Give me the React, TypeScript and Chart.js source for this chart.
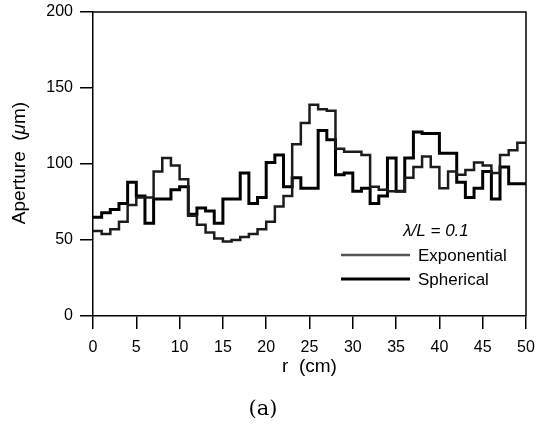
import React, { useEffect, useRef } from 'react';
import { Chart, registerables } from 'chart.js';

Chart.register(...registerables);

// Radial distance bins (cm): each value holds from r to r + 1
const radiusBins: number[] = Array.from({ length: 50 }, (_, i) => i);

// Aperture profiles (um) for the two covariance models, lambda/L = 0.1
const exponentialAperture: number[] = [
  56, 54, 57, 62, 73, 78, 78, 95, 104, 99,
  90, 66, 60, 55, 51, 49, 50, 52, 54, 57,
  62, 72, 79, 113, 127, 139, 136, 135, 110, 108,
  108, 106, 85, 83, 82, 82, 91, 98, 105, 98,
  84, 95, 93, 96, 101, 99, 94, 106, 109, 114,
];

const sphericalAperture: number[] = [
  65, 68, 70, 74, 88, 79, 61, 77, 77, 83,
  85, 67, 71, 69, 61, 77, 77, 94, 74, 78,
  101, 106, 85, 91, 84, 84, 122, 116, 93, 94,
  82, 84, 74, 79, 104, 82, 104, 121, 120, 120,
  107, 107, 88, 78, 84, 95, 77, 98, 87, 87,
];

const seriesNames: string[] = ['Exponential', 'Spherical'];
const xTickStep = 5;
const yTickStep = 50;
const xRange: [number, number] = [0, 50];
const yRange: [number, number] = [0, 200];

const FONT = '"Liberation Sans", Arial, Helvetica, sans-serif';

function stepPoints(values: number[]) {
  const pts = radiusBins.map((r, i) => ({ x: r, y: values[i] }));
  pts.push({ x: radiusBins[radiusBins.length - 1] + 1, y: values[values.length - 1] });
  return pts;
}

const decorations = {
  id: 'decorations',
  afterDraw(chart: any) {
    const { ctx, chartArea } = chart;
    const { left, right, top, bottom } = chartArea;
    ctx.save();

    // frame: top and right edges
    ctx.strokeStyle = '#000';
    ctx.lineWidth = 1.5;
    ctx.beginPath();
    ctx.moveTo(left, top);
    ctx.lineTo(right, top);
    ctx.lineTo(right, bottom);
    ctx.stroke();

    ctx.fillStyle = '#000';
    ctx.textBaseline = 'middle';

    // y-axis title, rotated
    ctx.save();
    ctx.translate(20, 163);
    ctx.rotate(-Math.PI / 2);
    const parts: [string, string][] = [
      ['Aperture  (', `19px ${FONT}`],
      ['\u03bc', `italic 19px ${FONT}`],
      ['m)', `19px ${FONT}`],
    ];
    let total = 0;
    for (const [t, f] of parts) { ctx.font = f; total += ctx.measureText(t).width; }
    let px = -total / 2;
    ctx.textAlign = 'left';
    for (const [t, f] of parts) {
      ctx.font = f;
      ctx.fillText(t, px, 0);
      px += ctx.measureText(t).width;
    }
    ctx.restore();

    // x-axis title
    ctx.textAlign = 'center';
    ctx.font = `19px ${FONT}`;
    ctx.fillText('r  (cm)', (left + right) / 2, 367);

    // panel label
    ctx.font = '21px "DejaVu Serif", "Liberation Serif", serif';
    ctx.fillText('(a)', 263, 410);

    // legend block
    ctx.font = `italic 17px ${FONT}`;
    ctx.fillText('\u03bb/L = 0.1', 436, 231);

    const legendRows = [
      { y: 255, color: '#555', width: 2.5 },
      { y: 279, color: '#000', width: 3 },
    ];
    legendRows.forEach((row, i) => {
      ctx.strokeStyle = row.color;
      ctx.lineWidth = row.width;
      ctx.beginPath();
      ctx.moveTo(341, row.y);
      ctx.lineTo(410, row.y);
      ctx.stroke();
      ctx.textAlign = 'left';
      ctx.font = `17px ${FONT}`;
      ctx.fillText(seriesNames[i], 418, row.y + 1);
    });

    ctx.restore();
  },
};

export default function App() {
  const canvasRef = useRef<HTMLCanvasElement | null>(null);

  useEffect(() => {
    const canvas = canvasRef.current;
    if (!canvas) return;

    const axisCommon = {
      type: 'linear' as const,
      grid: { drawOnChartArea: false, tickLength: 13, color: '#000', lineWidth: 1.5 },
      border: { color: '#000', width: 1.5 },
    };

    const chart = new Chart(canvas, {
      type: 'line',
      data: {
        datasets: [
          {
            label: seriesNames[0],
            data: stepPoints(exponentialAperture),
            borderColor: '#1c1c1c',
            borderWidth: 2.5,
            stepped: true,
            pointRadius: 0,
            fill: false,
          },
          {
            label: seriesNames[1],
            data: stepPoints(sphericalAperture),
            borderColor: '#000',
            borderWidth: 3,
            stepped: true,
            pointRadius: 0,
            fill: false,
          },
        ],
      },
      options: {
        responsive: false,
        animation: false,
        devicePixelRatio: 1,
        layout: { padding: { left: 0, right: 11, top: 12, bottom: 0 } },
        plugins: { legend: { display: false }, tooltip: { enabled: false } },
        scales: {
          x: {
            ...axisCommon,
            min: xRange[0],
            max: xRange[1],
            ticks: {
              stepSize: xTickStep,
              color: '#000',
              font: { family: FONT, size: 16 },
              padding: 9,
              maxRotation: 0,
            },
            afterFit: (s: any) => {
              s.height = 114;
              s.paddingLeft = 0;
              s.paddingRight = 0;
            },
          },
          y: {
            ...axisCommon,
            min: yRange[0],
            max: yRange[1],
            ticks: {
              stepSize: yTickStep,
              color: '#000',
              font: { family: FONT, size: 16 },
              padding: 7,
            },
            afterFit: (s: any) => {
              s.width = 93;
              s.paddingTop = 0;
              s.paddingBottom = 0;
            },
          },
        },
      },
      plugins: [decorations],
    });

    return () => chart.destroy();
  }, []);

  return (
    <div style={{ position: 'absolute', left: 0, top: 0, width: 537, height: 430, background: '#fff' }}>
      <canvas ref={canvasRef} width={537} height={430} />
    </div>
  );
}
